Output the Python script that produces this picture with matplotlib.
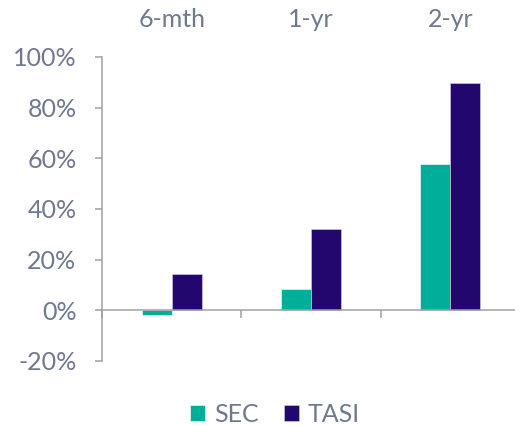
import matplotlib.pyplot as plt
import numpy as np

plt.rcParams['font.family'] = ['Lato', 'DejaVu Sans']

periods = ["6-mth", "1-yr", "2-yr"]
sec = [-1.7, 8.6, 57.7]
tasi = [14.2, 32.3, 89.7]
yticks = [-20, 0, 20, 40, 60, 80, 100]

txt = '#6e7891'
grey = '#a0a0a0'


def draw():
    fig = plt.figure(figsize=(5.15, 4.26), dpi=100)
    ax = fig.add_axes([102 / 515, 65 / 426, 418 / 515, 304 / 426])
    x = np.arange(len(periods))
    w = 0.215
    ax.bar(x - w / 2, sec, w, color='#00ae9a', label='SEC', edgecolor='white', linewidth=0.4)
    ax.bar(x + w / 2, tasi, w, color='#22076e', label='TASI', edgecolor='#d8d4e8', linewidth=0.4)

    ax.set_xlim(-0.5, 2.5)
    ax.set_ylim(-20, 100)
    ax.set_yticks(yticks)
    ax.set_yticklabels([f"{v}%" for v in yticks])

    for s in ['top', 'right']:
        ax.spines[s].set_visible(False)
    ax.spines['bottom'].set_position(('data', 0))
    ax.spines['bottom'].set_color(grey)
    ax.spines['left'].set_color(grey)
    ax.spines['bottom'].set_linewidth(1.1)
    ax.spines['left'].set_linewidth(1.1)

    ax.set_xticks(x)
    ax.set_xticklabels(periods)
    ax.set_xticks([-0.5, 0.5, 1.5, 2.5], minor=True)
    ax.tick_params(axis='x', which='major', length=0, labelbottom=False, labeltop=True,
                   pad=19, labelsize=18, labelcolor=txt)
    ax.tick_params(axis='x', which='minor', length=6, width=1.1, color=grey, direction='out')
    ax.tick_params(axis='y', length=5.4, width=1.1, color=grey, labelsize=18, labelcolor=txt, pad=13)

    fig.legend(loc='center', bbox_to_anchor=(275 / 515, 1 - 414 / 426), ncol=2, frameon=False,
               fontsize=18, labelcolor=txt, handlelength=0.6, handleheight=0.6,
               handletextpad=0.35, columnspacing=1.0)
    plt.savefig("out.png", dpi=100)


if __name__ == "__main__":
    draw()
